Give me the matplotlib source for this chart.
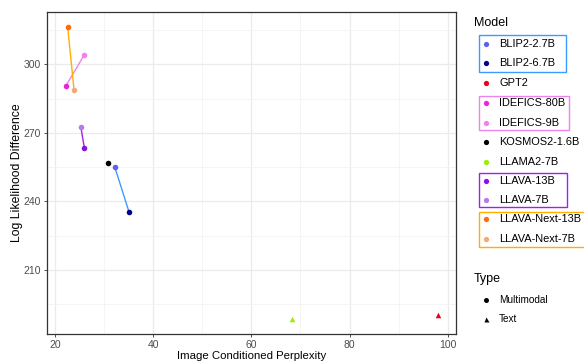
import matplotlib
matplotlib.use("Agg")
import matplotlib.pyplot as plt
from matplotlib.lines import Line2D
from matplotlib.patches import Rectangle

plt.rcParams['font.family'] = ['Liberation Sans', 'DejaVu Sans']

# data
models = ["BLIP2-2.7B", "BLIP2-6.7B", "GPT2", "IDEFICS-80B", "IDEFICS-9B",
          "KOSMOS2-1.6B", "LLAMA2-7B", "LLAVA-13B", "LLAVA-7B",
          "LLAVA-Next-13B", "LLAVA-Next-7B"]
perplexity = [32.2, 35.1, 97.9, 22.2, 26.0, 30.9, 68.3, 26.0, 25.3, 22.6, 23.9]
llDiff = [255.0, 235.3, 190.0, 290.4, 304.2, 256.6, 188.5, 263.5, 272.4, 316.5, 288.9]
modelType = ["Multimodal", "Multimodal", "Text", "Multimodal", "Multimodal",
             "Multimodal", "Text", "Multimodal", "Multimodal", "Multimodal", "Multimodal"]
pointColors = ["#6060F0", "#00008B", "#E8001C", "#F020D8", "#EE82EE",
               "#000000", "#9AEE00", "#8A10E8", "#B77AEA", "#FF6A10", "#F4A878"]

# model pairs joined by a line
pairs = [("BLIP2-2.7B", "BLIP2-6.7B"), ("IDEFICS-80B", "IDEFICS-9B"),
         ("LLAVA-13B", "LLAVA-7B"), ("LLAVA-Next-13B", "LLAVA-Next-7B")]
pairColors = ["#3D9BFF", "#EE82EE", "#A020F0", "#FFAE00"]

fig = plt.figure(figsize=(5.84, 3.63), dpi=100)
ax = fig.add_axes([47 / 584, 1 - 333.7 / 363, (455.7 - 47) / 584, (333.7 - 12.3) / 363])

for (a, b), c in zip(pairs, pairColors):
    i, j = models.index(a), models.index(b)
    ax.plot([perplexity[i], perplexity[j]], [llDiff[i], llDiff[j]], color=c, lw=1.0, zorder=2)

for x, y, t, c in zip(perplexity, llDiff, modelType, pointColors):
    m = 'o' if t == "Multimodal" else '^'
    ax.scatter(x, y, s=16, marker=m, color=c, zorder=3, linewidths=0)

ax.set_xlim(18.4, 101.6)
ax.set_ylim(182.0, 322.8)
ax.set_xticks([20, 40, 60, 80, 100])
ax.set_xticks([30, 50, 70, 90], minor=True)
ax.set_yticks([210, 240, 270, 300])
ax.set_yticks([195, 225, 255, 285, 315], minor=True)
ax.grid(True, which='major', color='#EBEBEB', lw=0.9, zorder=0)
ax.grid(True, which='minor', color='#F2F2F2', lw=0.5, zorder=0)
ax.set_axisbelow(True)
ax.tick_params(which='major', length=2.5, width=0.6, color='#333333',
               labelsize=7.5, labelcolor='#4D4D4D', pad=2)
ax.tick_params(which='minor', length=0)
for s in ax.spines.values():
    s.set_color('#333333')
    s.set_linewidth(0.9)

ax.set_xlabel("Image Conditioned Perplexity", fontsize=8.2, labelpad=1)
ax.set_ylabel("Log Likelihood Difference", fontsize=8.8, labelpad=0)

# legend, drawn by hand
def fx(px):
    return px / 584

def fy(py):
    return 1 - py / 363

fig.text(fx(474), fy(23.3), "Model", fontsize=9, va='center', ha='left')
rowY = [44.3, 63.3, 83.3, 103.3, 123.3, 142.3, 162.3, 181.0, 200.0, 219.3, 238.7]
for name, c, y in zip(models, pointColors, rowY):
    fig.add_artist(Line2D([fx(486)], [fy(y)], marker='o', ms=3.8, color=c, mec='none',
                          transform=fig.transFigure))
    fig.text(fx(499), fy(y), name, fontsize=7.9, va='center', ha='left')

boxes = [(479, 35, 566, 71.7, "#3D9BFF"), (479, 96, 569.3, 130, "#EE82EE"),
         (479, 172.7, 567.3, 206.7, "#A020F0"), (479, 211.7, 600, 247.3, "#FFAE00")]
for x0, y0, x1, y1, c in boxes:
    fig.add_artist(Rectangle((fx(x0), fy(y1)), fx(x1) - fx(x0), fy(y0) - fy(y1),
                             fill=False, ec=c, lw=1.0, transform=fig.transFigure))

fig.text(fx(474), fy(278.7), "Type", fontsize=9, va='center', ha='left')
for lab, m, y in [("Multimodal", 'o', 300.0), ("Text", '^', 319.3)]:
    fig.add_artist(Line2D([fx(486)], [fy(y)], marker=m, ms=3.6, color='black', mec='none',
                          transform=fig.transFigure))
    fig.text(fx(499), fy(y), lab, fontsize=7.2, va='center', ha='left')

fig.savefig("out.png", dpi=100)
